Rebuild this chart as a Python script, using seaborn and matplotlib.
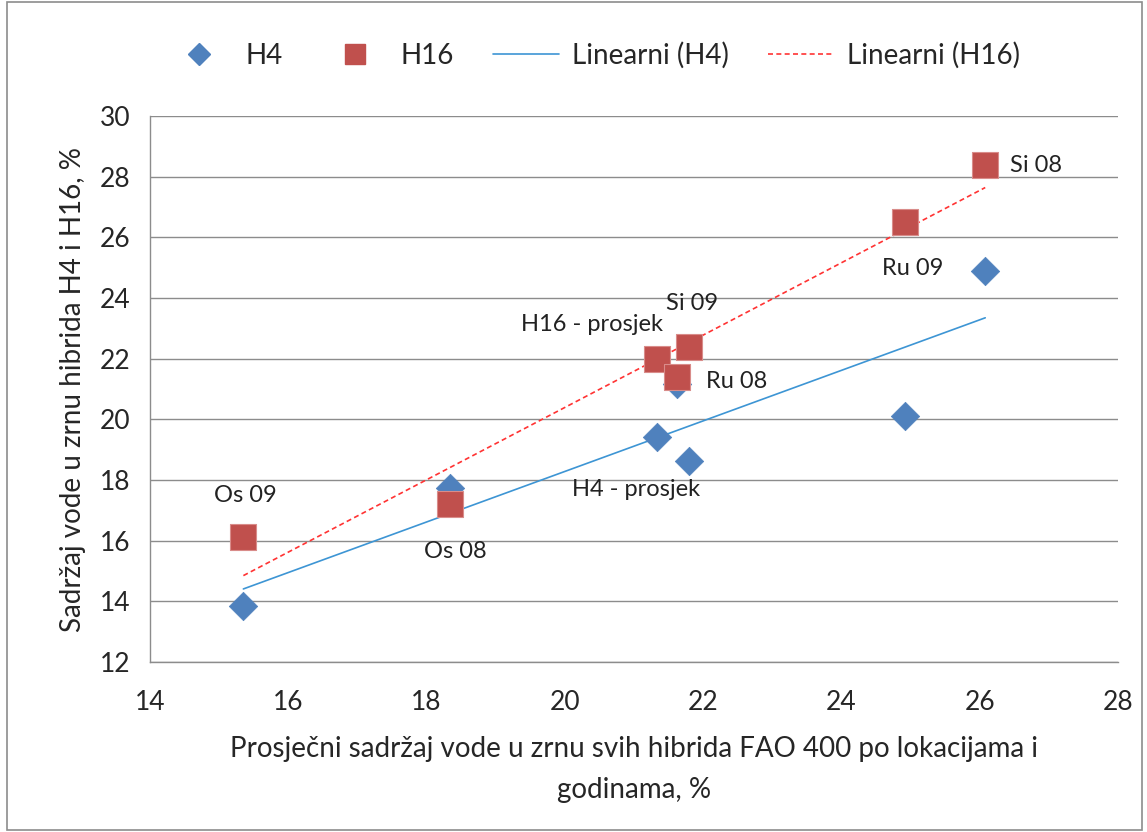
import pandas as pd
import seaborn as sns
import matplotlib.pyplot as plt
from matplotlib.lines import Line2D
from matplotlib.patches import Rectangle

# podaci (očitano s grafa)
prosjek_fao = [15.35, 18.34, 21.33, 21.62, 21.80, 24.92, 26.08]
h4 = [13.85, 17.74, 19.42, 21.17, 18.64, 20.12, 24.90]
h16 = [16.12, 17.22, 22.00, 21.40, 22.38, 26.50, 28.38]
h4_oznake = {2: "H4 - prosjek"}
h16_oznake = {0: "Os 09", 1: "Os 08", 2: "H16 - prosjek", 3: "Ru 08", 4: "Si 09", 5: "Ru 09", 6: "Si 08"}

df = pd.DataFrame({"x": prosjek_fao, "H4": h4, "H16": h16})

sns.set_style("white")
plt.rcParams['font.family'] = ['Lato', 'DejaVu Sans']

plava = "#4F81BD"
crvena = "#C0504D"

fig = plt.figure(figsize=(11.47, 8.32), dpi=100)
ax = fig.add_axes([0.1308, 0.2043, 0.8439, 0.6563])

# linearni trend
sns.regplot(data=df, x="x", y="H4", scatter=False, ci=None, truncate=True, ax=ax,
            line_kws=dict(color="#3D95D4", lw=1.2))
sns.regplot(data=df, x="x", y="H16", scatter=False, ci=None, truncate=True, ax=ax,
            line_kws=dict(color="#FF3333", lw=1.2, ls=(0, (3, 2))))

sns.scatterplot(data=df, x="x", y="H4", marker="D", s=210, color=plava, edgecolor=plava,
                linewidth=0.5, ax=ax, zorder=3)
sns.scatterplot(data=df, x="x", y="H16", marker="s", s=330, color=crvena, edgecolor="#D98C8A",
                linewidth=0.8, ax=ax, zorder=4)

# oznake točaka (pomak u pikselima)
pomak_h16 = {0: (2, 42), 1: (5, -48), 2: (-65, 34), 3: (29, -5), 4: (3, 44), 5: (8, -46), 6: (25, 0)}
pomak_h4 = {2: (-21, -53)}
for i, t in h16_oznake.items():
    ax.annotate(t, (prosjek_fao[i], h16[i]), xytext=pomak_h16[i], textcoords="offset pixels",
                ha="left" if i in (3, 6) else "center", va="center", fontsize=17, color="#222222")
for i, t in h4_oznake.items():
    ax.annotate(t, (prosjek_fao[i], h4[i]), xytext=pomak_h4[i], textcoords="offset pixels",
                ha="center", va="center", fontsize=17, color="#222222")

ax.set_xlim(14, 28)
ax.set_ylim(12, 30)
ax.set_xticks(range(14, 29, 2))
ax.set_yticks(range(12, 31, 2))
ax.grid(axis="y", color="#8C8C8C", lw=1)
ax.set_axisbelow(True)
for s in ["top", "right"]:
    ax.spines[s].set_visible(False)
for s in ["left", "bottom"]:
    ax.spines[s].set_color("#8C8C8C")
    ax.spines[s].set_linewidth(1)
ax.tick_params(axis="both", direction="out", length=6, color="#8C8C8C", labelsize=19, pad=8)
ax.tick_params(axis="x", pad=14)

ax.set_xlabel("Prosječni sadržaj vode u zrnu svih hibrida FAO 400 po lokacijama i\ngodinama, %",
              fontsize=20, labelpad=15, linespacing=1.75)
ax.set_ylabel("Sadržaj vode u zrnu hibrida H4 i H16, %", fontsize=20, labelpad=10)

rucke = [
    Line2D([], [], ls="", marker="D", ms=11, color=plava),
    Line2D([], [], ls="", marker="s", ms=15, color=crvena),
    Line2D([], [], color="#3D95D4", lw=1.2),
    Line2D([], [], color="#FF3333", lw=1.2, ls=(0, (3, 2))),
]
fig.legend(rucke, ["H4", "H16", "Linearni (H4)", "Linearni (H16)"], loc="center",
           bbox_to_anchor=(0.517, 0.933), ncol=4, frameon=False, fontsize=20,
           handlelength=2.4, columnspacing=1.4, handletextpad=0.45)

fig.patches.append(Rectangle((0.006, 0.003), 0.99, 0.994, transform=fig.transFigure,
                             fill=False, edgecolor="#8C8C8C", lw=1.2))

fig.savefig("out.png", dpi=100)
